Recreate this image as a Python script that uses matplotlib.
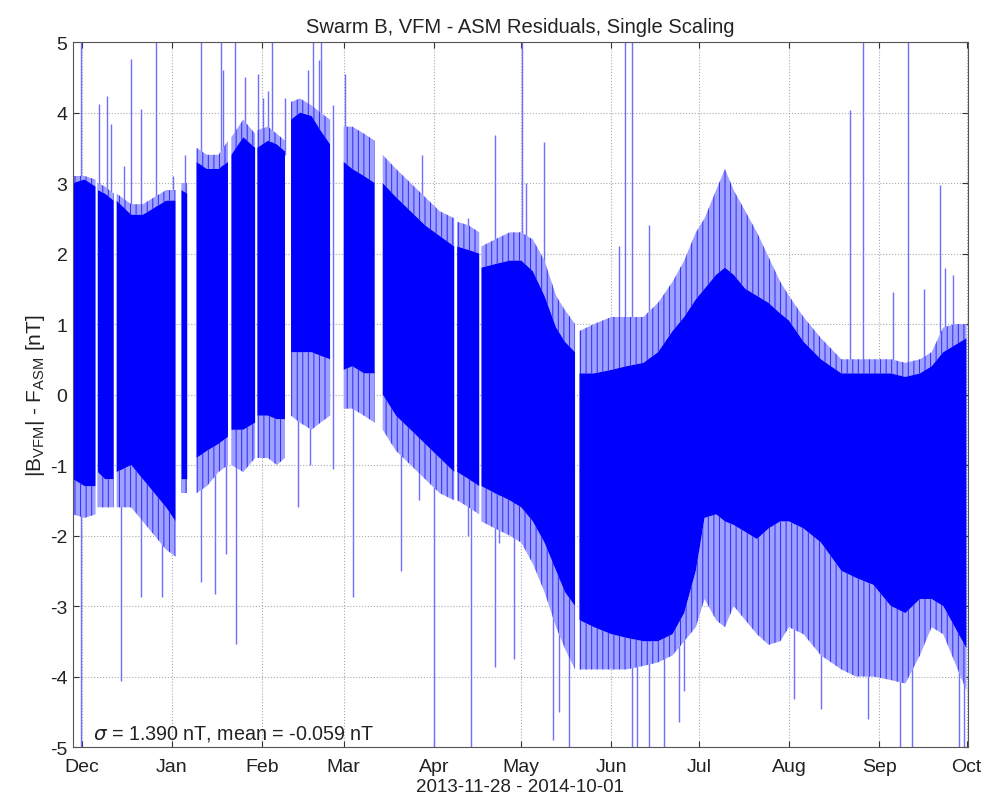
import numpy as np
import pandas as pd
import matplotlib
matplotlib.use("Agg")
import matplotlib.pyplot as plt

# envelope of the residual signal (NaN rows = data gaps)
env_dates = [
    "2013-11-28", "2013-12-02", "2013-12-05 18:00", "2013-12-06",
    "2013-12-06 12:00", "2013-12-09", "2013-12-12", "2013-12-12 12:00",
    "2013-12-13", "2013-12-18", "2013-12-22", "2013-12-26", "2013-12-30", "2014-01-02 06:00", "2014-01-03",
    "2014-01-04 06:00", "2014-01-06 06:00", "2014-01-07",
    "2014-01-09 10:00", "2014-01-13", "2014-01-17", "2014-01-20 06:00", "2014-01-21",
    "2014-01-21 10:00", "2014-01-25 12:00", "2014-01-29 14:00", "2014-01-30",
    "2014-01-30 08:00", "2014-02-03", "2014-02-06", "2014-02-08 20:00", "2014-02-09",
    "2014-02-10 22:00", "2014-02-14", "2014-02-18", "2014-02-21", "2014-02-24 08:00", "2014-02-26",
    "2014-03-01", "2014-03-04", "2014-03-08", "2014-03-11 16:00", "2014-03-13",
    "2014-03-14 10:00", "2014-03-19", "2014-03-24", "2014-03-29", "2014-04-03", "2014-04-08", "2014-04-08 12:00",
    "2014-04-09", "2014-04-13", "2014-04-16 14:00", "2014-04-17",
    "2014-04-17 08:00", "2014-04-22", "2014-04-27", "2014-05-01", "2014-05-05", "2014-05-09",
    "2014-05-13", "2014-05-16", "2014-05-19 12:00", "2014-05-20",
    "2014-05-21", "2014-05-26", "2014-06-01", "2014-06-06", "2014-06-12", "2014-06-17",
    "2014-06-22", "2014-06-26", "2014-06-30", "2014-07-03", "2014-07-07", "2014-07-10",
    "2014-07-13", "2014-07-17", "2014-07-21", "2014-07-25", "2014-07-29", "2014-08-01",
    "2014-08-06", "2014-08-12", "2014-08-19", "2014-08-24", "2014-08-30", "2014-09-05",
    "2014-09-10", "2014-09-15", "2014-09-19", "2014-09-23", "2014-09-27", "2014-10-01",
]
nan = np.nan
fringe_top = [
    3.1, 3.1, 3.05, nan,
    3.0, 2.95, 2.85, nan,
    2.85, 2.7, 2.7, 2.8, 2.9, 2.9, nan,
    3.0, 3.0, nan,
    3.5, 3.4, 3.4, 3.6, nan,
    3.65, 3.9, 3.7, nan,
    3.75, 3.8, 3.7, 3.6, nan,
    4.15, 4.2, 4.1, 4.0, 3.9, nan,
    3.8, 3.8, 3.7, 3.6, nan,
    3.4, 3.2, 3.0, 2.8, 2.6, 2.5, nan,
    2.45, 2.4, 2.3, nan,
    2.1, 2.2, 2.3, 2.3, 2.2, 1.9,
    1.4, 1.2, 1.0, nan,
    0.9, 1.0, 1.1, 1.1, 1.1, 1.3,
    1.6, 1.9, 2.3, 2.5, 2.9, 3.2,
    2.9, 2.6, 2.3, 1.95, 1.6, 1.4,
    1.1, 0.8, 0.5, 0.5, 0.5, 0.5,
    0.45, 0.5, 0.6, 0.95, 1.0, 1.0,
]
core_top = [
    3.0, 3.05, 2.95, nan,
    2.9, 2.85, 2.75, nan,
    2.75, 2.55, 2.55, 2.65, 2.75, 2.75, nan,
    2.9, 2.85, nan,
    3.3, 3.2, 3.2, 3.3, nan,
    3.4, 3.65, 3.5, nan,
    3.5, 3.6, 3.55, 3.45, nan,
    3.9, 4.0, 3.95, 3.75, 3.55, nan,
    3.3, 3.2, 3.1, 3.0, nan,
    3.0, 2.8, 2.6, 2.4, 2.25, 2.1, nan,
    2.1, 2.05, 2.0, nan,
    1.8, 1.85, 1.9, 1.9, 1.75, 1.4,
    0.95, 0.75, 0.6, nan,
    0.3, 0.3, 0.35, 0.4, 0.45, 0.6,
    0.9, 1.1, 1.35, 1.5, 1.7, 1.8,
    1.7, 1.5, 1.4, 1.3, 1.15, 1.05,
    0.75, 0.5, 0.3, 0.3, 0.3, 0.3,
    0.25, 0.3, 0.4, 0.6, 0.7, 0.8,
]
core_bot = [
    -1.2, -1.3, -1.3, nan,
    -1.1, -1.2, -1.2, nan,
    -1.1, -1.0, -1.2, -1.4, -1.6, -1.8, nan,
    -1.2, -1.2, nan,
    -0.9, -0.8, -0.7, -0.6, nan,
    -0.5, -0.5, -0.4, nan,
    -0.3, -0.3, -0.35, -0.35, nan,
    0.6, 0.6, 0.6, 0.55, 0.5, nan,
    0.35, 0.4, 0.3, 0.3, nan,
    0.0, -0.3, -0.5, -0.7, -0.9, -1.1, nan,
    -1.1, -1.2, -1.3, nan,
    -1.3, -1.4, -1.5, -1.6, -1.8, -2.1,
    -2.5, -2.8, -3.0, nan,
    -3.2, -3.3, -3.4, -3.45, -3.5, -3.5,
    -3.4, -3.1, -2.5, -1.75, -1.7, -1.8,
    -1.85, -1.95, -2.05, -1.9, -1.8, -1.8,
    -1.9, -2.1, -2.5, -2.6, -2.7, -3.0,
    -3.1, -2.9, -2.9, -3.0, -3.3, -3.6,
]
fringe_bot = [
    -1.7, -1.75, -1.7, nan,
    -1.6, -1.6, -1.6, nan,
    -1.6, -1.6, -1.8, -2.0, -2.2, -2.3, nan,
    -1.4, -1.4, nan,
    -1.4, -1.3, -1.1, -1.0, nan,
    -1.0, -1.1, -0.9, nan,
    -0.9, -0.9, -1.0, -0.9, nan,
    -0.3, -0.4, -0.5, -0.4, -0.3, nan,
    -0.2, -0.2, -0.3, -0.4, nan,
    -0.5, -0.8, -1.0, -1.2, -1.4, -1.5, nan,
    -1.5, -1.6, -1.7, nan,
    -1.8, -1.9, -2.0, -2.1, -2.4, -2.8,
    -3.3, -3.6, -3.9, nan,
    -3.9, -3.9, -3.9, -3.9, -3.85, -3.8,
    -3.7, -3.5, -3.3, -2.9, -3.2, -3.3,
    -3.0, -3.2, -3.4, -3.55, -3.5, -3.3,
    -3.4, -3.7, -3.9, -4.0, -4.0, -4.05,
    -4.1, -3.7, -3.3, -3.4, -3.8, -4.2,
]

# isolated outliers (vertical excursions)
spike_dates = [
    "2013-11-30 16:00", "2013-12-06 20:00", "2013-12-09 14:00", "2013-12-10 22:00", "2013-12-14 16:00",
    "2013-12-15 10:00", "2013-12-18 02:00", "2013-12-21 05:00", "2013-12-26 16:00", "2013-12-28 16:00",
    "2014-01-01 12:00", "2014-01-05 14:00", "2014-01-10 20:00", "2014-01-15 22:00", "2014-01-18",
    "2014-01-18 14:00", "2014-01-19 16:00", "2014-01-22 16:00", "2014-01-23 02:00", "2014-01-26 05:00",
    "2014-01-30 14:00", "2014-02-01 07:00", "2014-02-03", "2014-02-04 10:00", "2014-02-08 19:00",
    "2014-02-13 07:00", "2014-02-16 16:00", "2014-02-17 10:00", "2014-02-18 12:00", "2014-02-20 12:00",
    "2014-02-21 05:00", "2014-02-25 07:00", "2014-03-01 10:00", "2014-03-04 02:00", "2014-03-20 14:00",
    "2014-03-27", "2014-03-28", "2014-04-01", "2014-04-12 14:00", "2014-04-13 14:00",
    "2014-04-22", "2014-04-23 12:00", "2014-04-28 10:00", "2014-05-01 10:00", "2014-05-02 16:00",
    "2014-05-08 22:00", "2014-05-11 22:00", "2014-05-14", "2014-05-17 07:00", "2014-06-03 16:00",
    "2014-06-05 16:00", "2014-06-08 02:00", "2014-06-09 19:00", "2014-06-13 22:00", "2014-06-19",
    "2014-06-24 02:00", "2014-06-26 02:00", "2014-08-02 16:00", "2014-08-12", "2014-08-22",
    "2014-08-26 14:00", "2014-08-28", "2014-09-05 19:00", "2014-09-08 05:00", "2014-09-10 19:00",
    "2014-09-12 05:00", "2014-09-16 07:00", "2014-09-21 19:00", "2014-09-23 12:00", "2014-09-26 05:00",
    "2014-09-28 14:00", "2014-09-30 07:00",
]
spike_lo = [
    -5.0, 2.5, 2.5, 2.5, -4.06,
    2.5, 2.5, -2.87, 2.5, -2.87,
    2.5, 2.5, -2.66, -2.83, 3.0,
    3.0, -2.26, 3.0, -3.54, 3.4,
    3.4, 3.4, 3.4, 3.4, 3.4,
    -1.6, 3.8, -1.0, 3.8, 3.8,
    3.8, -1.05, 3.2, -2.87, -2.5,
    -1.5, 2.6, -5.0, -2.0, -5.0,
    -3.87, -2.1, -3.75, 1.8, 1.8,
    1.5, -4.9, -4.5, -5.0, 0.3,
    0.3, -5.0, -5.0, -5.0, -5.0,
    -4.65, -4.2, -4.32, -4.46, 0.3,
    0.3, -4.6, 0.2, -5.0, 0.2,
    -5.0, 0.3, 0.5, 0.5, 0.6,
    -5.0, -5.0,
]
spike_hi = [
    5.0, 4.12, 4.24, 3.84, -1.0,
    3.24, 4.76, 4.05, 5.0, -1.5,
    3.1, 3.4, 5.0, -0.7, 5.0,
    4.6, -0.5, 5.0, -0.4, 4.5,
    4.55, 4.2, 4.3, 5.0, 4.2,
    0.6, 4.6, 0.6, 5.0, 4.75,
    5.0, 4.1, 4.55, 0.3, -0.6,
    -0.6, 3.4, -0.7, 2.5, -1.2,
    3.68, -1.4, -1.5, 5.0, 3.0,
    3.58, -2.2, -2.6, -3.0, 2.1,
    5.0, 5.0, -3.3, 2.4, -3.4,
    -3.4, -3.3, -1.8, -2.1, 4.03,
    5.0, -2.6, 1.46, -3.1, 5.0,
    -3.0, 1.5, 2.97, 1.8, 1.7,
    -3.2, -3.4,
]

month_ticks = ["2013-12-01", "2014-01-01", "2014-02-01", "2014-03-01", "2014-04-01", "2014-05-01",
               "2014-06-01", "2014-07-01", "2014-08-01", "2014-09-01", "2014-10-01"]
month_labels = ["Dec", "Jan", "Feb", "Mar", "Apr", "May", "Jun", "Jul", "Aug", "Sep", "Oct"]
y_ticks = [5, 4, 3, 2, 1, 0, -1, -2, -3, -4, -5]

plt.rcParams["font.family"] = ["Liberation Sans", "DejaVu Sans"]
plt.rcParams["hatch.linewidth"] = 0.7
plt.rcParams["hatch.color"] = "#2a2aff"

t = pd.to_datetime(env_dates, format="mixed")
ft = np.array(fringe_top)
ct = np.array(core_top)
cb = np.array(core_bot)
fb = np.array(fringe_bot)

fig = plt.figure(figsize=(9.85, 8.12), dpi=100)
ax = fig.add_axes([0.0741, 0.0788, 0.9086, 0.8682])

# outlier lines underneath the dense band
ax.vlines(pd.to_datetime(spike_dates, format="mixed"), spike_lo, spike_hi, color="#7070ff", lw=1.0, zorder=2)

# light, striped fringe above and below the dense core
ax.fill_between(t, ct, ft, facecolor="#a0a0ff", edgecolor="#2a2aff", hatch="|||", lw=0, zorder=3)
ax.fill_between(t, fb, cb, facecolor="#a0a0ff", edgecolor="#2a2aff", hatch="|||", lw=0, zorder=3)
# dense core
ax.fill_between(t, cb, ct, color="#0000ff", lw=0, zorder=4)

ax.set_xlim(pd.Timestamp("2013-11-28"), pd.Timestamp("2014-10-01 12:00"))
ax.set_ylim(-5, 5)
ax.set_xticks(pd.to_datetime(month_ticks))
ax.set_xticklabels(month_labels)
ax.set_yticks(y_ticks)
ax.set_yticklabels([str(v) for v in y_ticks])
ax.tick_params(direction="in", top=True, right=True, length=4, labelsize=14,
               colors="#333333", labelcolor="#222222")
ax.tick_params(axis="x", pad=8)
ax.tick_params(axis="y", pad=4)
ax.grid(True, linestyle=":", color="#aaaaaa", lw=0.8, zorder=1)
ax.set_axisbelow(True)
for s in ax.spines.values():
    s.set_color("#555555")
    s.set_zorder(6)

ax.set_title("Swarm B, VFM - ASM Residuals, Single Scaling", fontsize=14.5, color="#222222", pad=7)
ax.set_ylabel(r"|B$_{\mathregular{VFM}}$| - F$_{\mathregular{ASM}}$ [nT]", fontsize=15, color="#222222", labelpad=2)
ax.set_xlabel("2013-11-28 - 2014-10-01", fontsize=13.5, color="#222222", labelpad=2)
ax.text(0.022, 0.006, r"$\sigma$ = 1.390 nT, mean = -0.059 nT", transform=ax.transAxes,
        fontsize=14.2, color="#222222", va="bottom", ha="left", zorder=7)

fig.savefig("out.png", dpi=100)
